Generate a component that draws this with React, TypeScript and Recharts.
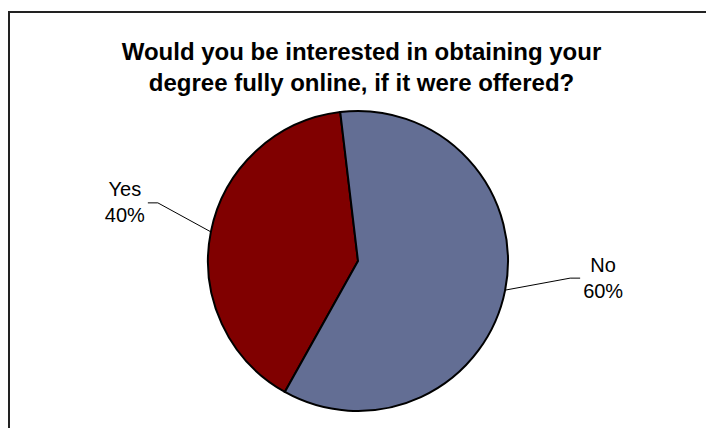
import { PieChart, Pie, Cell } from 'recharts';

const answers = ['Yes', 'No'];
const shares = [40, 60];
const sliceColors = ['#800000', '#636E94'];
const titleLines = [
  'Would you be interested in obtaining your',
  'degree fully online, if it were offered?',
];

const data = answers.map((name, i) => ({ name, value: shares[i] }));

const RAD = Math.PI / 180;
const FONT = '"Liberation Sans", Arial, sans-serif';

// elbow / text offsets from the slice edge, per side
const leaderLayout = [
  { elbowDx: -53, elbowDy: -29, tailDx: -10, textDx: -23, textDy: -7 },
  { elbowDx: 65, elbowDy: -12, tailDx: 10, textDx: 23, textDy: -6 },
];

function renderLabel(props: any) {
  const { cx, cy, midAngle, outerRadius, percent, name, index } = props;
  const ex = cx + outerRadius * Math.cos(-midAngle * RAD);
  const ey = cy + outerRadius * Math.sin(-midAngle * RAD);
  const l = leaderLayout[index];
  const bx = ex + l.elbowDx;
  const by = ey + l.elbowDy;
  const tx = bx + l.tailDx;
  const labelX = tx + l.textDx;
  const labelY = by + l.textDy;
  return (
    <g key={`lbl-${index}`}>
      <polyline
        points={`${ex},${ey} ${bx},${by} ${tx},${by}`}
        fill="none"
        stroke="#000"
        strokeWidth={1}
      />
      <text
        x={labelX}
        y={labelY}
        textAnchor="middle"
        fontFamily={FONT}
        fontSize={20}
        fill="#000"
      >
        {name}
      </text>
      <text
        x={labelX}
        y={labelY + 26}
        textAnchor="middle"
        fontFamily={FONT}
        fontSize={20}
        fill="#000"
      >
        {`${Math.round(percent * 100)}%`}
      </text>
    </g>
  );
}

export default function App() {
  return (
    <div
      style={{
        position: 'relative',
        width: 706,
        height: 428,
        overflow: 'hidden',
        background: '#fff',
      }}
    >
      <style>{'html, body { margin: 0; overflow: hidden; }'}</style>
      <div
        style={{
          position: 'absolute',
          left: 8,
          top: 11,
          width: 698,
          height: 417,
          boxSizing: 'border-box',
          borderTop: '2px solid #222',
          borderLeft: '2px solid #222',
        }}
      />
      <div
        style={{
          position: 'absolute',
          left: 8,
          width: 698,
          paddingLeft: 9,
          boxSizing: 'border-box',
          top: 36,
          textAlign: 'center',
          fontFamily: FONT,
          fontWeight: 'bold',
          fontSize: 24,
          lineHeight: '31px',
          color: '#000',
        }}
      >
        {titleLines.map((t) => (
          <div key={t}>{t}</div>
        ))}
      </div>
      <PieChart
        width={706}
        height={428}
        margin={{ top: 0, right: 0, bottom: 0, left: 0 }}
        style={{ position: 'absolute', left: 0, top: 0 }}
      >
        <Pie
          data={data}
          dataKey="value"
          nameKey="name"
          cx={358}
          cy={261}
          outerRadius={150}
          startAngle={96.8}
          endAngle={456.8}
          stroke="#000"
          strokeWidth={2}
          label={renderLabel}
          labelLine={false}
          isAnimationActive={false}
        >
          {data.map((entry, i) => (
            <Cell key={`cell-${entry.name}`} fill={sliceColors[i]} />
          ))}
        </Pie>
      </PieChart>
    </div>
  );
}
